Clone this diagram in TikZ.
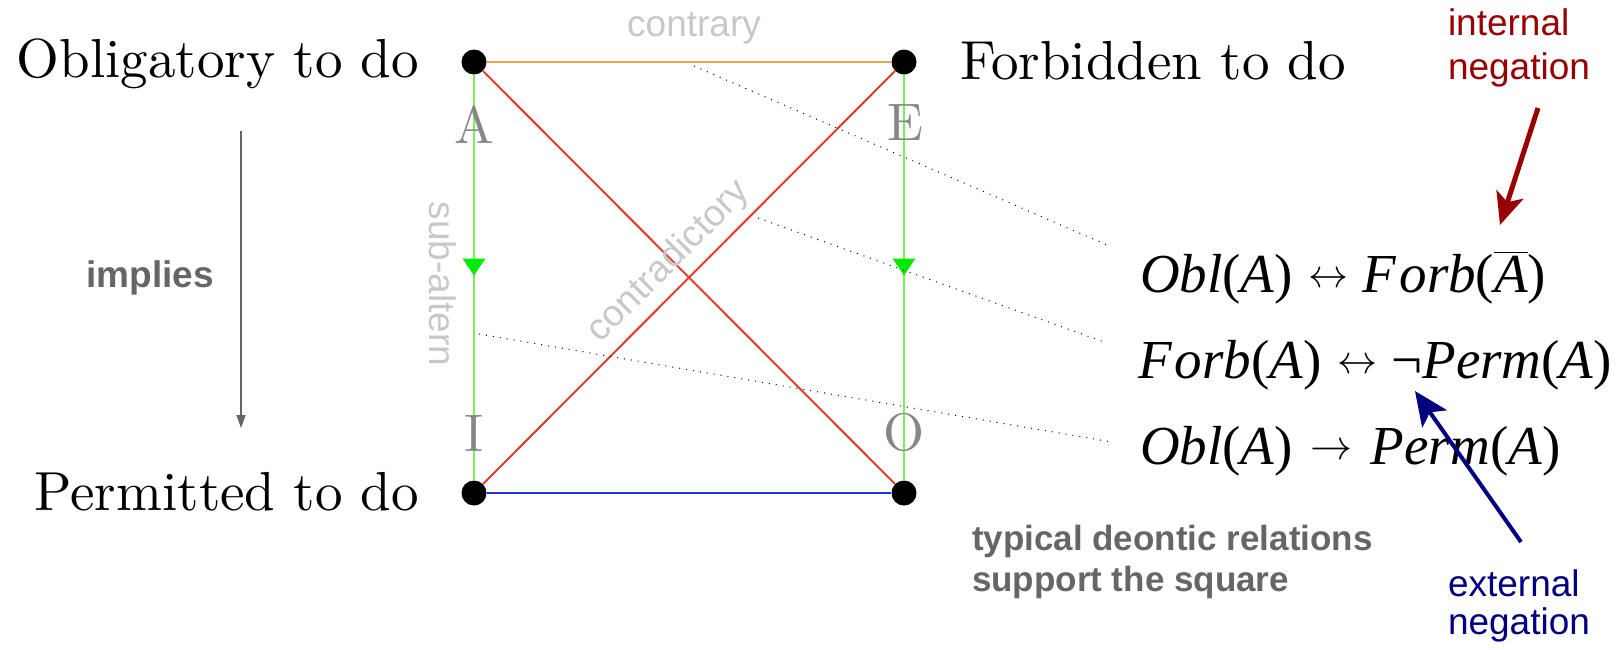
\documentclass[tikz,border=0pt]{standalone}
\usepackage{fontspec}
\newfontfamily\lsans{Liberation Sans}
\newfontfamily\lserif{Liberation Serif}
\usetikzlibrary{arrows.meta,calc}
\definecolor{cOrange}{RGB}{240,160,80}
\definecolor{cRed}{RGB}{225,60,45}
\definecolor{cBlue}{RGB}{30,50,230}
\definecolor{cGreen}{RGB}{125,240,85}
\definecolor{cGreenHead}{RGB}{0,235,0}
\definecolor{cLight}{RGB}{200,200,200}
\definecolor{cDark}{RGB}{102,102,102}
\definecolor{cLetter}{RGB}{135,135,135}
\definecolor{cInt}{RGB}{153,0,0}
\definecolor{cExt}{RGB}{0,0,128}
\newcommand{\mainlbl}[1]{\scalebox{2.75}{#1}}
\newcommand{\cornerlbl}[1]{\scalebox{2.64}{#1}}
\newcommand{\ovA}{$\overline{\hbox{\itshape A}}$}
\newcommand{\lra}{\kern8pt\raisebox{2.5pt}{\resizebox{20pt}{!}{$\leftrightarrow$}}\kern7pt}
\newcommand{\ra}{\kern9pt\raisebox{2.5pt}{\resizebox{21pt}{!}{$\rightarrow$}}\kern9pt}
\newcommand{\Forb}{\textit{F\kern1.5pt orb}}
\begin{document}
\begin{tikzpicture}[x=0.5pt,y=-0.5pt,
  dot/.style={circle,fill=black,inner sep=0pt,minimum size=12.5pt},
  txt/.style={inner sep=0pt,outer sep=0pt},
  letter/.style={txt,text=cLetter},
  lightlbl/.style={txt,text=cLight,font=\lsans\fontsize{18.5}{22}\selectfont},
  boldlbl/.style={txt,text=cDark,font=\lsans\bfseries\fontsize{17.5}{21}\selectfont},
  intlbl/.style={txt,text=cInt,font=\lsans\fontsize{18.5}{22}\selectfont},
  extlbl/.style={txt,text=cExt,font=\lsans\fontsize{18.5}{22}\selectfont},
  formula/.style={txt,font=\lserif\fontsize{27.5}{32}\selectfont},
  edge/.style={line width=1pt},
  dotline/.style={line width=0.5pt,dash pattern=on 0.5pt off 3pt,black},
  ghead/.style={fill=cGreenHead}
]
\useasboundingbox (0,0) rectangle (1618,649);
% corner dots
\node[dot] (A) at (474,62) {};
\node[dot] (E) at (904,62) {};
\node[dot] (I) at (474,493) {};
\node[dot] (O) at (904,493) {};
% square
\draw[edge,cOrange,line width=1.2pt] (A) -- (E);
\draw[edge,cBlue] (I) -- (O);
\draw[edge,cGreen] (A) -- (I);
\draw[edge,cGreen] (E) -- (O);
\draw[edge,cRed] (A) -- (O);
\draw[edge,cRed] (E) -- (I);
% green arrowheads
\coordinate (mL) at ($(A)!0.5!(I)$);
\coordinate (mR) at ($(E)!0.5!(O)$);
\fill[ghead] (mL) ++(0,-2) -- ++(-11.5,-17) -- ++(23,0) -- cycle;
\fill[ghead] (mR) ++(0,-2) -- ++(-11.5,-17) -- ++(23,0) -- cycle;
% corner letters
\node[letter,anchor=base] (lA) at (474,143) {\cornerlbl{A}};
\node[letter,anchor=base] (lE) at (905,140) {\cornerlbl{E}};
\node[letter,anchor=base] (lI) at (474,451) {\cornerlbl{I}};
\node[letter,anchor=base] (lO) at (904,450) {\cornerlbl{O}};
% main labels
\node[txt,anchor=base east] (obl) at (419,77) {\mainlbl{Obligatory to do}};
\node[txt,anchor=base west] (forb) at (960,79) {\mainlbl{Forbidden to do}};
\node[txt,anchor=base east] (perm) at (419,510) {\mainlbl{Permitted to do}};
% relation labels
\node[lightlbl,anchor=base] (contrary) at (694,36) {contrary};
\node[lightlbl,rotate=-90] (subalt) at (443,284) {sub-altern};
\node[lightlbl,rotate=45] (contra) at (669,262) {contradictory};
% implies
\coordinate (i1) at (241,131);
\coordinate (i2) at (241,428);
\draw[cDark,line width=0.75pt,-{Triangle[length=6.5pt,width=4.5pt]}] (i1) -- (i2);
\node[boldlbl,font=\lsans\bfseries\fontsize{18.5}{22}\selectfont,anchor=base] (implies) at (150,287) {implies};
% formulas
\node[formula,anchor=base west] (f1) at (1140,292) {\textit{Obl}(\textit{A})\lra\Forb(\ovA)};
\node[formula,anchor=base west] (f2) at (1138,378) {\Forb(\textit{A})\lra¬\textit{Perm}(\textit{A})};
\node[formula,anchor=base west] (f3) at (1140,464) {\textit{Obl}(\textit{A})\ra\textit{Perm}(\textit{A})};
% dotted leaders
\coordinate (d1s) at (694,66);  \coordinate (d1e) at (1107,245);
\coordinate (d2s) at (758,218); \coordinate (d2e) at (1107,343);
\coordinate (d3s) at (479,334); \coordinate (d3e) at (1112,442);
\draw[dotline] (d1s) -- (d1e);
\draw[dotline] (d2s) -- (d2e);
\draw[dotline] (d3s) -- (d3e);
% bottom caption
\node[boldlbl,anchor=base west] (typ1) at (972,550) {typical deontic relations};
\node[boldlbl,anchor=base west] (typ2) at (972,591) {support the square};
% internal negation
\node[intlbl,anchor=base west] (int1) at (1448,35) {internal};
\node[intlbl,anchor=base west] (int2) at (1448,79) {negation};
\coordinate (r1) at (1538,108);
\coordinate (r2) at (1500,225);
\draw[cInt,line width=2.5pt,-{Stealth[length=16pt,width=14pt,inset=4pt]}] (r1) -- (r2);
% external negation
\node[extlbl,anchor=base west] (ext1) at (1448,596) {external};
\node[extlbl,anchor=base west] (ext2) at (1448,634) {negation};
\coordinate (b1) at (1521,542);
\coordinate (b2) at (1415,391);
\draw[cExt,line width=2pt,-{Stealth[length=17pt,width=15pt,inset=4pt]}] (b1) -- (b2);
\end{tikzpicture}
\end{document}
